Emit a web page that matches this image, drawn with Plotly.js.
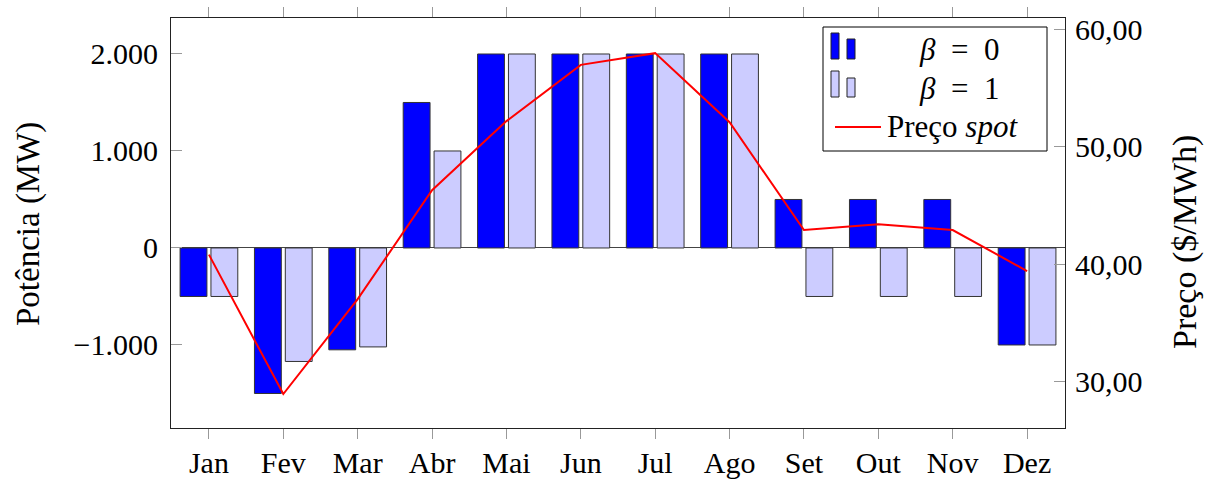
<!DOCTYPE html>
<html>
<head>
<meta charset="utf-8">
<script src="https://cdn.plot.ly/plotly-3.0.1.min.js"></script>
<style>html,body{margin:0;padding:0;background:#fff;}#chart{width:1212px;height:484px;}</style>
</head>
<body>
<div id="chart"></div>
<script>
const months = ["Jan","Fev","Mar","Abr","Mai","Jun","Jul","Ago","Set","Out","Nov","Dez"];
const beta0 = [-500,-1500,-1050,1500,2000,2000,2000,2000,500,500,500,-1000];
const beta1 = [-500,-1170,-1020,1000,2000,2000,2000,2000,-500,-500,-500,-1000];
const precoSpot = [40.8,28.9,37.0,46.3,52.2,57.0,58.0,52.1,42.9,43.4,42.9,39.4];
const leftTicks = [-1000,0,1000,2000];
const rightTicks = [30,40,50,60];
const seriesNames = ["<i>β</i>\u2002=\u20020","<i>β</i>\u2002=\u20021","Preço <i>spot</i>"];
const leftTitle = "Potência (MW)";
const rightTitle = "Preço ($/MWh)";

const FONT = "Liberation Serif, Times New Roman, serif";
const W = 1212, H = 484;
const M = {l:171, r:147, t:18, b:56};
const PW = W - M.l - M.r, PH = H - M.t - M.b;
const px = x => (x - M.l) / PW;
const py = y => (H - M.b - y) / PH;

const traces = [
  {type:"bar", x:months, y:beta0, name:seriesNames[0], marker:{color:"#0000ff", line:{color:"#333", width:1}}, showlegend:false},
  {type:"bar", x:months, y:beta1, name:seriesNames[1], marker:{color:"#ccccff", line:{color:"#333", width:1}}, showlegend:false},
  {type:"scatter", mode:"lines", x:months, y:precoSpot, yaxis:"y2", name:seriesNames[2], line:{color:"#ff0000", width:2}, showlegend:false}
];

const shapes = [
  {type:"rect", xref:"paper", yref:"paper", x0:px(823), x1:px(1047), y0:py(151), y1:py(27), line:{color:"#000", width:1}, fillcolor:"#fff", layer:"above"},
  {type:"rect", xref:"paper", yref:"paper", x0:px(831), x1:px(839), y0:py(59), y1:py(33), line:{color:"#222", width:1}, fillcolor:"#0000ff", layer:"above"},
  {type:"rect", xref:"paper", yref:"paper", x0:px(847), x1:px(855), y0:py(59), y1:py(39), line:{color:"#222", width:1}, fillcolor:"#0000ff", layer:"above"},
  {type:"rect", xref:"paper", yref:"paper", x0:px(831), x1:px(839), y0:py(97), y1:py(71), line:{color:"#222", width:1}, fillcolor:"#ccccff", layer:"above"},
  {type:"rect", xref:"paper", yref:"paper", x0:px(847), x1:px(855), y0:py(97), y1:py(78), line:{color:"#222", width:1}, fillcolor:"#ccccff", layer:"above"},
  {type:"line", xref:"paper", yref:"paper", x0:px(835), x1:px(881), y0:py(127), y1:py(127), line:{color:"#ff0000", width:2}, layer:"above"}
];

const annotations = [
  {xref:"paper", yref:"paper", x:px(959), y:py(50), text:seriesNames[0], showarrow:false, xanchor:"center", yanchor:"middle", font:{family:FONT, size:31, color:"#000"}},
  {xref:"paper", yref:"paper", x:px(959), y:py(88), text:seriesNames[1], showarrow:false, xanchor:"center", yanchor:"middle", font:{family:FONT, size:31, color:"#000"}},
  {xref:"paper", yref:"paper", x:px(885), y:py(126), text:seriesNames[2], showarrow:false, xanchor:"left", yanchor:"middle", font:{family:FONT, size:31, color:"#000"}},
  {xref:"paper", yref:"paper", x:px(28), y:py(224), text:leftTitle, textangle:-90, showarrow:false, xanchor:"center", yanchor:"middle", font:{family:FONT, size:33, color:"#000"}},
  {xref:"paper", yref:"paper", x:px(1185), y:py(242), text:rightTitle, textangle:-90, showarrow:false, xanchor:"center", yanchor:"middle", font:{family:FONT, size:34, color:"#000"}}
];

const layout = {
  width:W, height:H,
  margin:M,
  paper_bgcolor:"#fff", plot_bgcolor:"#fff",
  font:{family:FONT, size:30, color:"#000"},
  separators:",.",
  barmode:"group", bargap:0.17, bargroupgap:0.13,
  showlegend:false,
  xaxis:{
    type:"category", range:[-0.51, 11.51],
    showline:true, linecolor:"#222", linewidth:1, mirror:"ticks",
    ticks:"outside", ticklen:10, tickcolor:"#999", tickwidth:1,
    ticklabelstandoff:-2,
    showgrid:false, zeroline:false,
    tickfont:{family:FONT, size:30}
  },
  yaxis:{
    range:[-1856, 2371], tickvals:leftTicks, tickformat:",d",
    showline:true, linecolor:"#222", linewidth:1, mirror:true,
    ticks:"inside", ticklen:11, tickcolor:"#999", tickwidth:1,
    ticklabelstandoff:6,
    showgrid:false, zeroline:true, zerolinecolor:"#444", zerolinewidth:1,
    tickfont:{family:FONT, size:30}
  },
  yaxis2:{
    overlaying:"y", side:"right", range:[26, 61], tickvals:rightTicks, tickformat:".2f",
    showline:true, linecolor:"#222", linewidth:1,
    ticks:"inside", ticklen:11, tickcolor:"#999", tickwidth:1,
    ticklabelstandoff:3,
    showgrid:false, zeroline:false,
    tickfont:{family:FONT, size:30}
  },
  shapes:shapes,
  annotations:annotations
};

Plotly.newPlot("chart", traces, layout, {displayModeBar:false, staticPlot:true});
</script>
</body>
</html>
